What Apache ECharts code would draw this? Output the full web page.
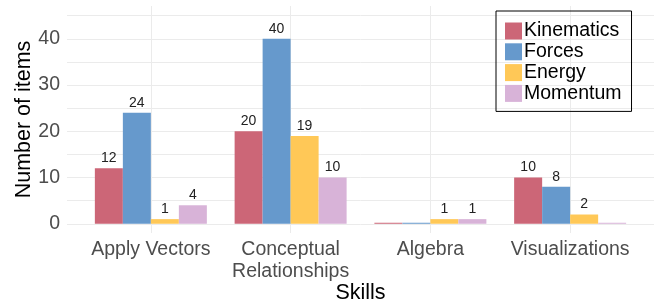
<!DOCTYPE html>
<html>
<head>
<meta charset="utf-8">
<script src="https://cdn.jsdelivr.net/npm/echarts@6/dist/echarts.min.js"></script>
<style>
  html, body { margin: 0; padding: 0; background: #fff; }
  #chart { width: 654px; height: 304px; }
</style>
</head>
<body>
<div id="chart"></div>
<script>
// categories and series values
var skills = ['Apply Vectors', 'Conceptual\nRelationships', 'Algebra', 'Visualizations'];
var seriesNames = ['Kinematics', 'Forces', 'Energy', 'Momentum'];
var kinematics = [12, 20, 0, 10];
var forces = [24, 40, 0, 8];
var energy = [1, 19, 1, 2];
var momentum = [4, 10, 1, 0];
var yLabelTicks = [0, 10, 20, 30, 40];
var yGridTicks = [0, 5, 10, 15, 20, 25, 30, 35, 40, 45];
var colors = ['#CC6677', '#6699CC', '#FFC857', '#D8B3D8'];

var font = '"Liberation Sans", Arial, sans-serif';

var chart = echarts.init(document.getElementById('chart'));

// bars sit on a value axis (positions 1..4) so the panel can be wider than the bands
function toPoints(values) {
    var pts = [];
    for (var i = 0; i < values.length; i++) {
        pts.push([i + 1, values[i]]);
    }
    return pts;
}

var allValues = [kinematics, forces, energy, momentum];
var series = [];
for (var s = 0; s < seriesNames.length; s++) {
    series.push({
        name: seriesNames[s],
        type: 'bar',
        data: toPoints(allValues[s]),
        barWidth: 28,
        barGap: '0%',
        barMinHeight: 1,
        itemStyle: { color: colors[s] },
        label: {
            show: true,
            position: 'top',
            distance: 3,
            fontFamily: font,
            fontSize: 14,
            color: '#222',
            formatter: function (p) {
                return p.value[1] === 0 ? '' : String(p.value[1]);
            }
        }
    });
}

chart.setOption({
    animation: false,
    color: colors,
    grid: { left: 67, right: 0, top: 6, bottom: 71, outerBoundsMode: 'none' },
    legend: {
        orient: 'vertical',
        left: 496,
        top: 11,
        itemWidth: 17,
        itemHeight: 17,
        itemGap: 0.8,
        padding: [10, 10, 8, 9],
        borderColor: '#000',
        borderWidth: 1,
        icon: 'rect',
        textStyle: {
            fontFamily: font,
            fontSize: 19.5,
            lineHeight: 17,
            color: '#000',
            padding: [0, 0, 0, -3]
        },
        data: seriesNames
    },
    xAxis: {
        type: 'value',
        min: 0.4,
        max: 4.6,
        name: 'Skills',
        nameLocation: 'middle',
        nameGap: 49,
        nameMoveOverlap: false,
        nameTextStyle: { fontFamily: font, fontSize: 21.5, color: '#000' },
        axisLine: { show: false },
        axisTick: { show: false, customValues: [1, 2, 3, 4] },
        splitLine: { show: true, lineStyle: { color: '#ebebeb', width: 1 } },
        axisLabel: {
            customValues: [1, 2, 3, 4],
            margin: 6,
            fontFamily: font,
            fontSize: 19.5,
            lineHeight: 22,
            color: '#4d4d4d',
            formatter: function (v) { return skills[Math.round(v) - 1]; }
        }
    },
    yAxis: {
        type: 'value',
        min: -2,
        max: 47.1,
        name: 'Number of items',
        nameLocation: 'middle',
        nameGap: 32,
        nameMoveOverlap: false,
        nameTextStyle: { fontFamily: font, fontSize: 21.5, color: '#000' },
        axisLine: { show: false },
        axisTick: { show: false, customValues: yGridTicks },
        splitLine: { show: true, lineStyle: { color: '#ebebeb', width: 1 } },
        axisLabel: {
            customValues: yLabelTicks,
            margin: 7,
            fontFamily: font,
            fontSize: 19.5,
            color: '#4d4d4d'
        }
    },
    series: series
});
</script>
</body>
</html>
